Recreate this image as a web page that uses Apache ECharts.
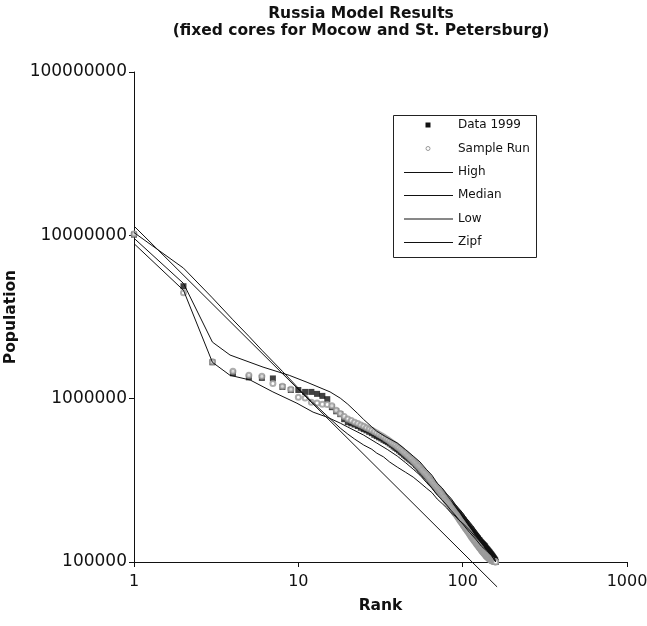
<!DOCTYPE html>
<html>
<head>
<meta charset="utf-8">
<script src="https://cdn.jsdelivr.net/npm/echarts@6.0.0/dist/echarts.min.js"></script>
<style>
  html, body { margin: 0; padding: 0; background: #fff; }
  #chart { width: 647px; height: 626px; }
</style>
</head>
<body>
<div id="chart"></div>
<script>
// City populations by rank, 1999 (rank = array index + 1)
const data1999 = [
  10100000, 4880000, 1670000, 1430000, 1350000, 1340000, 1330000, 1180000, 1130000, 1130000,
  1100000, 1100000, 1070000, 1040000, 993000, 887000, 837000, 804000, 749000, 718000,
  706000, 694000, 680000, 664000, 651000, 640000, 627000, 615000, 601000, 590000,
  580000, 571000, 560000, 551000, 542000, 532000, 522000, 510000, 500000, 491000,
  482000, 472000, 463000, 454000, 445000, 437000, 430000, 423000, 416000, 409000,
  401000, 393000, 385000, 377000, 369000, 362000, 355000, 349000, 342000, 336000,
  330000, 324000, 317000, 311000, 305000, 300000, 295000, 289000, 284000, 279000,
  275000, 271000, 267000, 263000, 259000, 255000, 251000, 247000, 243000, 239000,
  236000, 232000, 229000, 226000, 223000, 220000, 217000, 214000, 211000, 208000,
  205000, 203000, 200000, 198000, 195000, 193000, 190000, 188000, 185000, 183000,
  181000, 179000, 176000, 174000, 172000, 170000, 167000, 165000, 163000, 161000,
  159000, 158000, 156000, 154000, 152000, 151000, 149000, 147000, 146000, 144000,
  143000, 141000, 140000, 139000, 137000, 136000, 135000, 133000, 132000, 131000,
  130000, 129000, 128000, 127000, 126000, 125000, 124000, 122000, 121000, 120000,
  119000, 118000, 117000, 116000, 115000, 114000, 113000, 112000, 111000, 110000,
  109000, 108000, 107000, 106000, 105000, 104000, 103000, 102000, 100000
];

// One simulated run of the model (rank = array index + 1)
const sampleRun = [
  10200000, 4450000, 1680000, 1470000, 1390000, 1370000, 1240000, 1190000, 1140000, 1020000,
  1010000, 950000, 940000, 925000, 920000, 905000, 850000, 810000, 778000, 750000,
  735000, 718000, 704000, 690000, 677000, 664000, 651000, 640000, 628000, 616000,
  604000, 593000, 582000, 571000, 560000, 549000, 538000, 528000, 518000, 508000,
  498000, 488000, 478000, 469000, 460000, 451000, 442000, 433000, 425000, 417000,
  409000, 401000, 393000, 385000, 378000, 370000, 363000, 356000, 349000, 342000,
  336000, 329000, 323000, 317000, 311000, 305000, 299000, 293000, 288000, 282000,
  277000, 272000, 267000, 262000, 257000, 252000, 248000, 243000, 239000, 235000,
  231000, 227000, 223000, 219000, 215000, 212000, 208000, 205000, 202000, 199000,
  196000, 193000, 190000, 187000, 184000, 181000, 178000, 176000, 173000, 171000,
  168000, 166000, 163000, 161000, 159000, 157000, 155000, 153000, 151000, 149000,
  147000, 145000, 143000, 141000, 140000, 138000, 136000, 135000, 133000, 132000,
  130000, 129000, 127000, 126000, 125000, 123000, 122000, 121000, 120000, 118000,
  117000, 116000, 115000, 114000, 113000, 112000, 111000, 110000, 109000, 108000,
  107500, 107000, 106000, 105500, 105000, 104000, 103500, 103000, 102500, 102000,
  101800, 101500, 101200, 101000, 100800, 100600, 100400, 100200, 100000
];

// Model envelopes: [rank, population]
const highLine = [
  [1, 9600000], [2, 5080000], [3, 2220000], [3.84, 1850000], [6.1, 1560000], [8.8, 1390000],
  [11.3, 1260000], [15.6, 1100000], [18, 1007000], [20, 925000], [23, 810000], [25, 745000],
  [28, 672000], [30, 632000], [34, 585000], [40, 535000], [45, 487000], [50, 445000],
  [55, 410000], [60, 370000], [65, 340000], [70, 304000], [75, 284000], [80, 261000],
  [85, 245000], [90, 226000], [95, 212000], [100, 200000], [105, 186000], [110, 176000],
  [115, 167000], [120, 157000], [125, 149000], [130, 140000], [135, 134000], [140, 127000],
  [145, 121000], [150, 115000], [155, 108000], [159, 100000]
];
const medianLine = [
  [1, 8900000], [2, 4610000], [3, 1670000], [3.84, 1390000], [5.1, 1300000], [7, 1100000],
  [9.8, 938000], [12.3, 827000], [15, 770000], [18, 708000], [20, 670000], [25, 598000],
  [30, 535000], [35, 487000], [40, 445000], [45, 405000], [50, 370000], [55, 340000],
  [60, 308000], [65, 283000], [70, 257000], [75, 240000], [80, 223000], [85, 207000],
  [90, 194000], [95, 181000], [100, 171000], [110, 152000], [120, 138000], [130, 125000],
  [140, 117000], [150, 109000], [159, 100000]
];
const lowLine = [
  [1, 10400000], [2, 6300000], [3, 4140000], [4, 3040000], [5, 2410000], [6, 1980000],
  [8, 1470000], [10, 1160000], [12, 966000], [15, 782000], [18, 660000], [20, 607000],
  [22, 566000], [25, 520000], [28, 490000], [30, 464000], [33, 440000], [36, 409000],
  [40, 381000], [45, 354000], [50, 331000], [55, 306000], [60, 284000], [65, 266000],
  [70, 243000], [75, 228000], [80, 214000], [85, 200000], [90, 191000], [95, 180000],
  [100, 173000], [110, 157000], [120, 142000], [130, 131000], [140, 120000], [150, 110000],
  [159, 100000]
];
// Rank-size (Zipf) reference line
const zipfLine = [[1, 11400000], [162, 70400]];

const rankTicks = ['1', '10', '100', '1000'];
const popTicks = ['100000', '1000000', '10000000', '100000000'];
const legendNames = ['Data 1999', 'Sample Run', 'High', 'Median', 'Low', 'Zipf'];

const FONT = 'DejaVu Sans';
const INK = '#111';
const withRank = arr => arr.map((v, i) => [i + 1, v]);
const plain = v => String(Math.round(v));

const lineSeries = (name, data) => ({
  name, type: 'line', data, symbol: 'none', showSymbol: false,
  lineStyle: { color: INK, width: 1 }, itemStyle: { color: INK },
  clip: false, animation: false, z: 3
});

// Boxed key in the upper right of the plot
const keyRows = [125, 148.5, 172, 195, 218.5, 242];
const keyGraphics = [
  { type: 'rect', shape: { x: 393.5, y: 115.5, width: 143, height: 142 },
    style: { fill: '#fff', stroke: '#222', lineWidth: 1 }, z: 10 },
  { type: 'rect', shape: { x: 425.5, y: keyRows[0] - 2.5, width: 5, height: 5 },
    style: { fill: INK }, z: 11 },
  { type: 'circle', shape: { cx: 428, cy: keyRows[1], r: 2 },
    style: { fill: '#fff', stroke: '#999', lineWidth: 1 }, z: 11 }
];
for (let i = 2; i < 6; i++) {
  keyGraphics.push({ type: 'line', shape: { x1: 404, y1: keyRows[i] + 0.5, x2: 453, y2: keyRows[i] + 0.5 },
    style: { stroke: INK, lineWidth: 1 }, z: 11 });
}
legendNames.forEach((name, i) => {
  keyGraphics.push({ type: 'text', x: 458, y: keyRows[i], z: 11,
    style: { text: name, font: '12px "DejaVu Sans"', fill: INK, verticalAlign: 'middle' } });
});

const chart = echarts.init(document.getElementById('chart'), null, { renderer: 'canvas' });
chart.setOption({
  backgroundColor: '#fff',
  animation: false,
  textStyle: { fontFamily: FONT },
  grid: { left: 134, right: 20, top: 72, bottom: 64, containLabel: false, outerBoundsMode: 'none' },
  graphic: [
    { type: 'text', x: 361, y: 14, style: { text: 'Russia Model Results', font: 'bold 15.5px "DejaVu Sans"', fill: INK, align: 'center', verticalAlign: 'middle' } },
    { type: 'text', x: 361, y: 31, style: { text: '(fixed cores for Mocow and St. Petersburg)', font: 'bold 15.5px "DejaVu Sans"', fill: INK, align: 'center', verticalAlign: 'middle' } }
  ].concat(keyGraphics),
  xAxis: {
    type: 'log', logBase: 10, min: 1, max: 1000,
    name: 'Rank', nameLocation: 'middle', nameGap: 36,
    nameTextStyle: { fontFamily: FONT, fontWeight: 'bold', fontSize: 15.5, color: INK },
    axisLine: { lineStyle: { color: INK, width: 1 } },
    axisTick: { show: true, inside: false, length: 5, lineStyle: { color: INK } },
    minorTick: { show: false },
    splitLine: { show: false },
    axisLabel: { fontFamily: FONT, fontSize: 16, color: INK, margin: 12,
      formatter: v => rankTicks.includes(plain(v)) ? plain(v) : '' }
  },
  yAxis: {
    type: 'log', logBase: 10, min: 100000, max: 100000000,
    name: 'Population', nameLocation: 'middle', nameGap: 108, nameRotate: 90,
    nameTextStyle: { fontFamily: FONT, fontWeight: 'bold', fontSize: 15.5, color: INK },
    axisLine: { lineStyle: { color: INK, width: 1 } },
    axisTick: { show: true, inside: false, length: 5, lineStyle: { color: INK } },
    splitLine: { show: false },
    axisLabel: { fontFamily: FONT, fontSize: 17, color: INK, margin: 7,
      formatter: v => popTicks.includes(plain(v)) ? plain(v) : '' }
  },
  series: [
    { name: 'Data 1999', type: 'scatter', data: withRank(data1999), symbol: 'rect', symbolSize: 6,
      itemStyle: { color: INK }, z: 2 },
    { name: 'Sample Run', type: 'scatter', data: withRank(sampleRun), symbol: 'emptyCircle', symbolSize: 5,
      itemStyle: { color: '#999', borderColor: '#999', borderWidth: 1.2 }, z: 2 },
    lineSeries('High', highLine),
    lineSeries('Median', medianLine),
    lineSeries('Low', lowLine),
    lineSeries('Zipf', zipfLine)
  ]
});
</script>
</body>
</html>
